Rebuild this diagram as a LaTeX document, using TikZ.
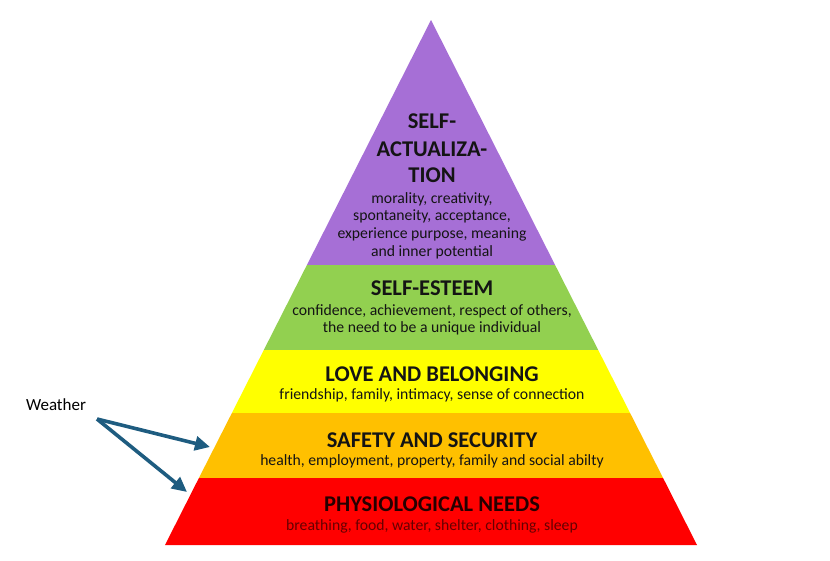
\documentclass[tikz,border=0pt]{standalone}
\usepackage{fontspec}
\setmainfont{Carlito}
\usetikzlibrary{arrows.meta}
\definecolor{lvpurple}{RGB}{166,111,214}
\definecolor{lvgreen}{RGB}{146,208,80}
\definecolor{lvyellow}{RGB}{255,255,0}
\definecolor{lvorange}{RGB}{255,192,0}
\definecolor{lvred}{RGB}{255,0,0}
\definecolor{arrowblue}{RGB}{30,92,128}
\definecolor{txt}{RGB}{20,20,20}
\begin{document}
\begin{tikzpicture}[x=1pt,y=-1pt,
  title/.style={font=\fontsize{22.5}{22.5}\selectfont\bfseries, text=txt, inner sep=0pt, anchor=base},
  desc/.style={font=\fontsize{15.7}{18}\selectfont, text=txt, inner sep=0pt, anchor=base},
  weatherarrow/.style={draw=arrowblue, line width=3.6pt, -{Triangle[length=15pt,width=14pt]}}]
\useasboundingbox (0,0) rectangle (830,560);
\fill[white] (0,0) rectangle (830,560);
% layers
\fill[lvpurple] (431,20) -- (555.1,265) -- (306.9,265) -- cycle;
\fill[lvgreen] (306.9,265) -- (555.1,265) -- (598.2,350) -- (263.8,350) -- cycle;
\fill[lvyellow] (263.8,350) -- (598.2,350) -- (630.1,413) -- (231.9,413) -- cycle;
\fill[lvorange] (231.9,413) -- (630.1,413) -- (663.1,478) -- (198.9,478) -- cycle;
\fill[lvred] (198.9,478) -- (663.1,478) -- (697,545) -- (165,545) -- cycle;
% texts
\node[title] (sa1) at (432,128.8) {SELF-};
\node[title] (sa2) at (432,156.5) {ACTUALIZA-};
\node[title] (sa3) at (432,182.3) {TION};
\node[desc] (sad1) at (432,203) {morality, creativity,};
\node[desc] (sad2) at (432,220.6) {spontaneity, acceptance,};
\node[desc] (sad3) at (432,238.6) {experience purpose, meaning};
\node[desc] (sad4) at (432,256.4) {and inner potential};
\node[title] (se) at (432,295.3) {SELF-ESTEEM};
\node[desc] (sed1) at (432,315.4) {confidence, achievement, respect of others,};
\node[desc] (sed2) at (432,332.7) {the need to be a unique individual};
\node[title] (lb) at (432,381.3) {LOVE AND BELONGING};
\node[desc] (lbd) at (432,399.7) {friendship, family, intimacy, sense of connection};
\node[title] (ss) at (432,447.3) {SAFETY AND SECURITY};
\node[desc] (ssd) at (432,465.7) {health, employment, property, family and social abilty};
\node[title, text=black!85!red] (pn) at (432,511.3) {PHYSIOLOGICAL NEEDS};
\node[desc, text=black!60!red] (pnd) at (432,530.5) {breathing, food, water, shelter, clothing, sleep};
% weather
\node[font=\fontsize{17}{17}\selectfont, text=black, inner sep=0pt, anchor=base] (weather) at (56,410.5) {Weather};
\coordinate (wstart) at (97,419);
\coordinate (safetyedge) at (210,447);
\coordinate (physedge) at (187,492);
\draw[weatherarrow] (wstart) -- (safetyedge);
\draw[weatherarrow] (wstart) -- (physedge);
\end{tikzpicture}
\end{document}
